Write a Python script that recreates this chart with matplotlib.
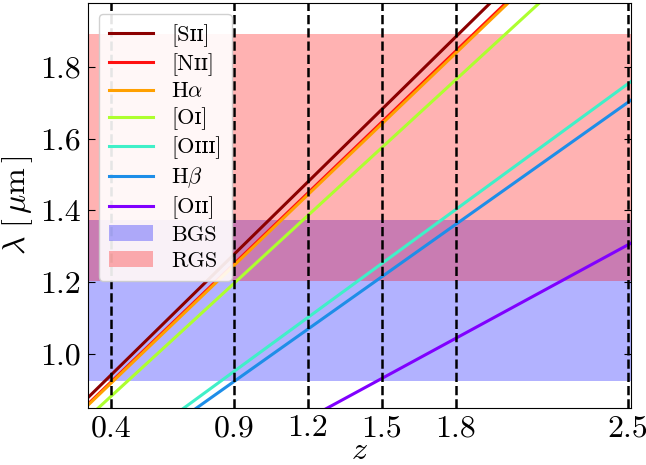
import matplotlib
matplotlib.use('Agg')
import matplotlib.pyplot as plt

# line tracks: lambda [um] at the two ends of the z range
z_ends = [0.3, 2.51]
line_names = [r'[Sɪɪ]', r'[Nɪɪ]', r'H$\alpha$', r'[Oɪ]', r'[Oɪɪɪ]', r'H$\beta$', r'[Oɪɪ]']
lam_lo = [0.874, 0.856, 0.853, 0.819, 0.651, 0.632, 0.485]
lam_hi = [2.361, 2.311, 2.304, 2.211, 1.758, 1.706, 1.308]
line_cols = ['#8b0000', '#ff1010', '#ffa000', '#adff2f', '#40f0c8', '#1e8ee8', '#8000ff']

# grism ranges
bgs = [0.925, 1.374]
rgs = [1.203, 1.892]

z_marks = [0.4, 0.9, 1.2, 1.5, 1.8, 2.5]
y_ticks = [1.0, 1.2, 1.4, 1.6, 1.8]

plt.rcParams['font.family'] = ['cmr10', 'DejaVu Serif']
plt.rcParams['mathtext.fontset'] = 'cm'
plt.rcParams['axes.formatter.use_mathtext'] = True

fig, ax = plt.subplots(figsize=(6.46, 4.65), dpi=100)

for name, lo, hi, c in zip(line_names, lam_lo, lam_hi, line_cols):
    ax.plot(z_ends, [lo, hi], color=c, lw=2.2, label=name)

ax.axhspan(bgs[0], bgs[1], color='blue', alpha=0.3, lw=0, label='BGS')
ax.axhspan(rgs[0], rgs[1], color='red', alpha=0.3, lw=0, label='RGS')

for zz in z_marks:
    ax.axvline(zz, color='k', ls='--', lw=1.8)

ax.set_xlim(0.306, 2.512)
ax.set_ylim(0.85, 1.978)
ax.set_xticks(z_marks)
ax.set_xticklabels(['%.1f' % v for v in z_marks])
ax.set_yticks(y_ticks)
ax.set_yticklabels(['%.1f' % v for v in y_ticks])
ax.tick_params(direction='in', top=True, right=True, labelsize=23, length=5, pad=5)
ax.set_xlabel(r'$z$', fontsize=23, labelpad=-3)
ax.set_ylabel(r'$\lambda\ [\,\mu{\rm m}\,]$', fontsize=23, labelpad=4)

ax.legend(loc='upper left', fontsize=16, handlelength=2.0, labelspacing=0.28,
          borderpad=0.45, handletextpad=0.8, framealpha=0.9)

fig.subplots_adjust(left=0.136, right=0.977, top=0.994, bottom=0.123)
fig.savefig('out.png', dpi=100)
